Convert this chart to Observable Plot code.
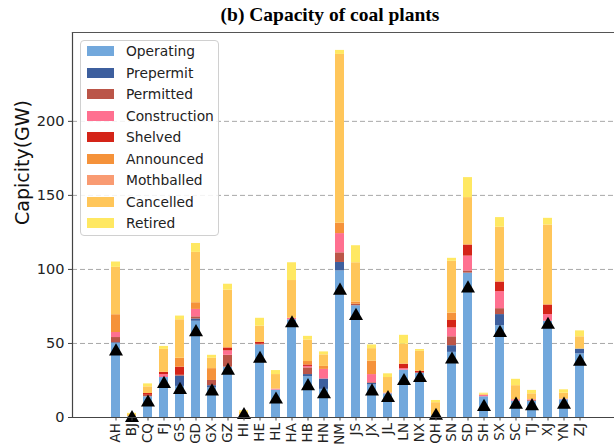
<!DOCTYPE html>
<html>
<head>
<meta charset="utf-8">
<script src="https://cdn.jsdelivr.net/npm/d3@7"></script>
<script src="https://cdn.jsdelivr.net/npm/@observablehq/plot@0.6"></script>
<style>
  html, body { margin: 0; padding: 0; background: white; }
  #wrap { position: relative; width: 614px; height: 446px; overflow: hidden; background: white; }
  #title { height: 28px; font-family: "Liberation Serif", "Times New Roman", serif; font-weight: bold; font-size: 19.5px; position: relative; }
  #title span { position: absolute; left: 330px; top: 4px; transform: translateX(-50%); white-space: nowrap; color: #000; }
  #legend { position: absolute; left: 80px; top: 40px; width: 137px; height: 194px; border: 1px solid #d0d0d0; border-radius: 4px; background: rgba(255,255,255,0.85); font-family: "DejaVu Sans", sans-serif; font-size: 13.8px; color: #222; }
  .item { position: absolute; left: 6px; height: 16px; display: flex; align-items: center; }
  .sw { width: 27px; height: 10px; margin-right: 12px; }
</style>
</head>
<body>
<div id="wrap">
  <div id="title"><span>(b) Capacity of coal plants</span></div>
  <div id="chart"></div>
  <div id="legend"></div>
</div>
<script>
const provinces = ["AH","BJ","CQ","FJ","GS","GD","GX","GZ","HI","HE","HL","HA","HB","HN","NM","JS","JX","JL","LN","NX","QH","SN","SD","SH","SX","SC","TJ","XJ","YN","ZJ"];
const statuses = ["Operating","Prepermit","Permitted","Construction","Shelved","Announced","Mothballed","Cancelled","Retired"];
const statusColors = ["#72a8dc","#3d5f9e","#bb5548","#ff7090","#d42418","#f5923a","#f99b72","#ffc65a","#ffe862"];

const operating    = [50, 0.5, 14, 27, 21, 65, 20, 34, 1, 49, 18.5, 66, 27.5, 19, 99, 75.5, 22, 16, 32, 30, 1, 44, 97.5, 14, 62, 11, 11, 65, 12, 43];
const prepermit    = [0.5, 0, 0, 0, 7, 1.5, 1.5, 0, 0, 0, 0, 0, 1.5, 7, 5.7, 0, 1, 0, 0, 0, 0, 4.5, 0, 0, 7.5, 0, 0, 0, 0, 3.2];
const permitted    = [3.5, 0, 1, 0, 0.5, 1.5, 3.5, 8, 0, 0.5, 0, 0, 4.5, 0, 6.5, 1, 0.5, 0, 0, 0, 0, 6, 1.5, 0, 4, 0, 0.5, 0, 0, 0];
const construction = [3.4, 0, 0, 2, 0, 5, 0, 3, 0, 0, 0.7, 1, 1, 6.5, 13, 0, 5.5, 0.5, 1, 0, 0, 6, 10, 1, 11.5, 1, 0.5, 4.5, 0.4, 0];
const shelved      = [0, 0, 1.2, 1.5, 5.5, 0, 0, 2, 0, 1.2, 0, 0, 1, 0, 0, 0, 0, 0, 3, 1.2, 0, 5, 7.5, 0, 6.5, 0, 0, 6.5, 0, 0];
const announced    = [12, 0, 0, 0, 6, 4.5, 8, 0, 0, 0, 0, 0, 2.3, 2, 7, 1.5, 9, 0, 0, 0, 0, 5, 0, 0, 0, 0, 0, 0, 0, 0];
const mothballed   = [0, 0, 0, 0, 0, 0, 0, 0, 0, 0, 0, 0, 0, 0, 0, 0, 0, 0, 0, 0, 0, 0, 0, 0, 0, 0, 0, 0, 0, 0];
const cancelled    = [32, 1.5, 4.5, 15.5, 26, 34, 7, 39, 2.5, 11, 9.8, 25.5, 14.5, 7.8, 114, 26.5, 8.5, 10.5, 13.5, 13.5, 9, 35, 32, 0.7, 37, 9.5, 4, 54, 4, 8.3];
const retired      = [3.6, 0.8, 2, 2, 2.5, 6, 2, 4, 1, 5.3, 2.7, 12, 2.5, 2, 2.7, 11.5, 2.5, 2.5, 6, 1.2, 1.5, 2, 13.5, 0.7, 6.5, 4.3, 2.3, 4.5, 2.3, 4];
const markerValues = [46, 1, 11.5, 24, 20, 59, 19, 33, 3, 41, 13.5, 65, 22.5, 17, 87, 70, 19, 14.5, 26, 28, 2.5, 40.5, 88.5, 8.5, 58.5, 10, 9, 64, 10, 39];
const yTicks = [0, 50, 100, 150, 200];

const series = [operating, prepermit, permitted, construction, shelved, announced, mothballed, cancelled, retired];
const rows = [];
statuses.forEach((s, si) => provinces.forEach((p, pi) => rows.push({province: p, status: s, value: series[si][pi]})));
const markers = provinces.map((p, i) => ({province: p, value: markerValues[i]}));

const chart = Plot.plot({
  width: 614,
  height: 418,
  marginTop: 4,
  marginBottom: 29,
  marginLeft: 72,
  marginRight: 0,
  style: {fontFamily: "DejaVu Sans, sans-serif", fontSize: "13px", color: "#222", background: "white"},
  x: {type: "band", domain: provinces, paddingInner: 0.44, paddingOuter: 1.32, align: 0.57, label: null},
  y: {domain: [0, 260], label: null},
  color: {domain: statuses, range: statusColors},
  marks: [
    Plot.gridY([50, 100, 150, 200], {stroke: "#a8a8a8", strokeOpacity: 1, strokeDasharray: "5,3", strokeWidth: 1}),
    Plot.barY(rows, {x: "province", y: "value", fill: "status", order: statuses}),
    Plot.dot(markers, {x: "province", y: "value", symbol: "triangle", r: 5.2, fill: "black", dy: 2}),
    Plot.ruleY([0], {stroke: "#444", strokeWidth: 1.2}),
    Plot.frame({anchor: "left", stroke: "#444", strokeWidth: 1.2}),
    Plot.frame({anchor: "top", stroke: "#555", strokeWidth: 1.2}),
    Plot.axisY(yTicks, {tickSize: 4, tickPadding: 4, fontSize: 14.5, label: null, stroke: "#444"}),
    Plot.axisX({tickRotate: -90, tickSize: 3.5, tickPadding: 2, fontSize: 13.5, label: null, stroke: "#444"}),
    Plot.text(["Capicity(GW)"], {frameAnchor: "left", dx: -50, dy: 0, rotate: -90, fontSize: 19, fill: "#111"})
  ]
});
document.getElementById("chart").appendChild(chart);

const legend = document.getElementById("legend");
statuses.forEach((s, i) => {
  const item = document.createElement("div");
  item.className = "item";
  item.style.top = (2 + i * 21.5) + "px";
  const sw = document.createElement("div");
  sw.className = "sw";
  sw.style.background = statusColors[i];
  const label = document.createElement("span");
  label.textContent = s;
  item.appendChild(sw);
  item.appendChild(label);
  legend.appendChild(item);
});
</script>
</body>
</html>
